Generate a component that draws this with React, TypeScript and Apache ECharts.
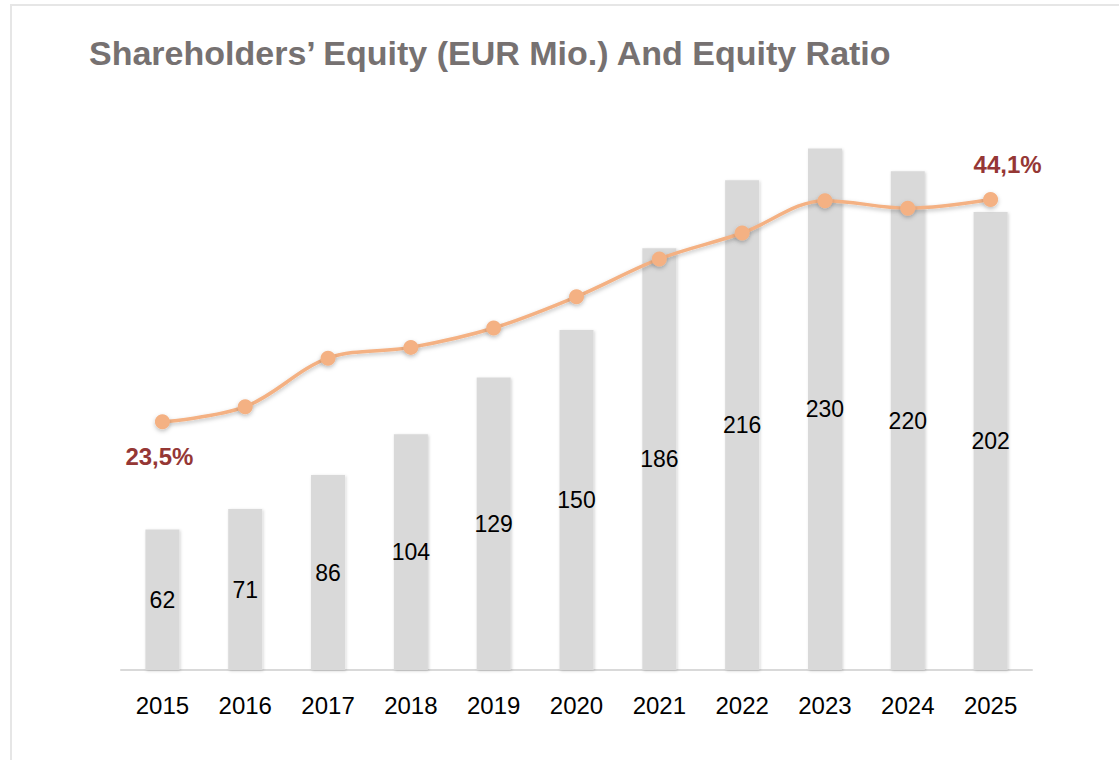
import React, { useEffect, useRef } from "react";
import * as echarts from "echarts";

const categories = ["2015", "2016", "2017", "2018", "2019", "2020", "2021", "2022", "2023", "2024", "2025"];
const equityValues = [62, 71, 86, 104, 129, 150, 186, 216, 230, 220, 202];
const ratioValues = [23.5, 24.9, 29.4, 30.4, 32.2, 35.1, 38.6, 41.0, 44.0, 43.3, 44.1];
const titleText = "Shareholders\u2019 Equity (EUR Mio.) And Equity Ratio";

const fmtPct = (v: number) => v.toFixed(1).replace(".", ",") + "%";

export default function App() {
  const ref = useRef<HTMLDivElement>(null);
  useEffect(() => {
    if (!ref.current) return;
    const chart = echarts.init(ref.current, null, { renderer: "svg" });
    const lastIdx = ratioValues.length - 1;
    const pctLabel = {
      show: true,
      position: "inside",
      color: "#953735",
      fontSize: 24,
      fontWeight: "bold",
      fontFamily: "Liberation Sans, Arial, sans-serif",
      formatter: (p: any) => fmtPct(p.value),
    };
    chart.setOption({
      animation: false,
      backgroundColor: "transparent",
      title: {
        text: titleText,
        left: 84,
        top: 31,
        textStyle: {
          color: "#767171",
          fontSize: 34,
          fontWeight: "bold",
          fontFamily: "Liberation Sans, Arial, sans-serif",
        },
      },
      grid: { left: 121, right: 87, top: 110, bottom: 90 },
      xAxis: {
        type: "category",
        data: categories,
        axisLine: { show: true, lineStyle: { color: "#d9d9d9", width: 2 } },
        axisTick: { show: false },
        axisLabel: {
          color: "#000000",
          fontSize: 24,
          margin: 23,
          fontFamily: "Liberation Sans, Arial, sans-serif",
        },
      },
      yAxis: [
        { type: "value", min: 0, max: 247, show: false, splitLine: { show: false } },
        { type: "value", min: 0.5, max: 52.4, show: false, splitLine: { show: false } },
      ],
      series: [
        {
          type: "bar",
          data: equityValues,
          barWidth: 34,
          yAxisIndex: 0,
          itemStyle: {
            color: "#d9d9d9",
            shadowColor: "rgba(0,0,0,0.18)",
            shadowBlur: 3,
            shadowOffsetX: 1,
            shadowOffsetY: 1,
          },
          label: {
            show: true,
            position: "inside",
            color: "#000000",
            fontSize: 23,
            fontFamily: "Liberation Sans, Arial, sans-serif",
          },
          z: 1,
        },
        {
          type: "line",
          yAxisIndex: 1,
          smooth: 0.35,
          symbol: "circle",
          symbolSize: 15,
          lineStyle: {
            color: "#f4b183",
            width: 3.5,
            shadowColor: "rgba(0,0,0,0.25)",
            shadowBlur: 4,
            shadowOffsetY: 2,
          },
          itemStyle: {
            color: "#f4b183",
            shadowColor: "rgba(0,0,0,0.25)",
            shadowBlur: 4,
            shadowOffsetY: 2,
          },
          data: ratioValues.map((v, i) => {
            if (i === 0) return { value: v, label: { ...pctLabel, offset: [-3, 35] } };
            if (i === lastIdx) return { value: v, label: { ...pctLabel, offset: [17, -35] } };
            return { value: v };
          }),
          z: 3,
        },
      ],
    });
    return () => chart.dispose();
  }, []);

  return (
    <div style={{ position: "fixed", left: 0, top: 0, width: 1119, height: 760, background: "#ffffff" }}>
      <div
        style={{
          position: "absolute",
          left: 10,
          top: 4,
          width: 1200,
          height: 900,
          borderLeft: "2px solid #e6e6e6",
          borderTop: "2px solid #e6e6e6",
        }}
      />
      <div ref={ref} style={{ position: "absolute", left: 0, top: 0, width: 1119, height: 760 }} />
    </div>
  );
}
